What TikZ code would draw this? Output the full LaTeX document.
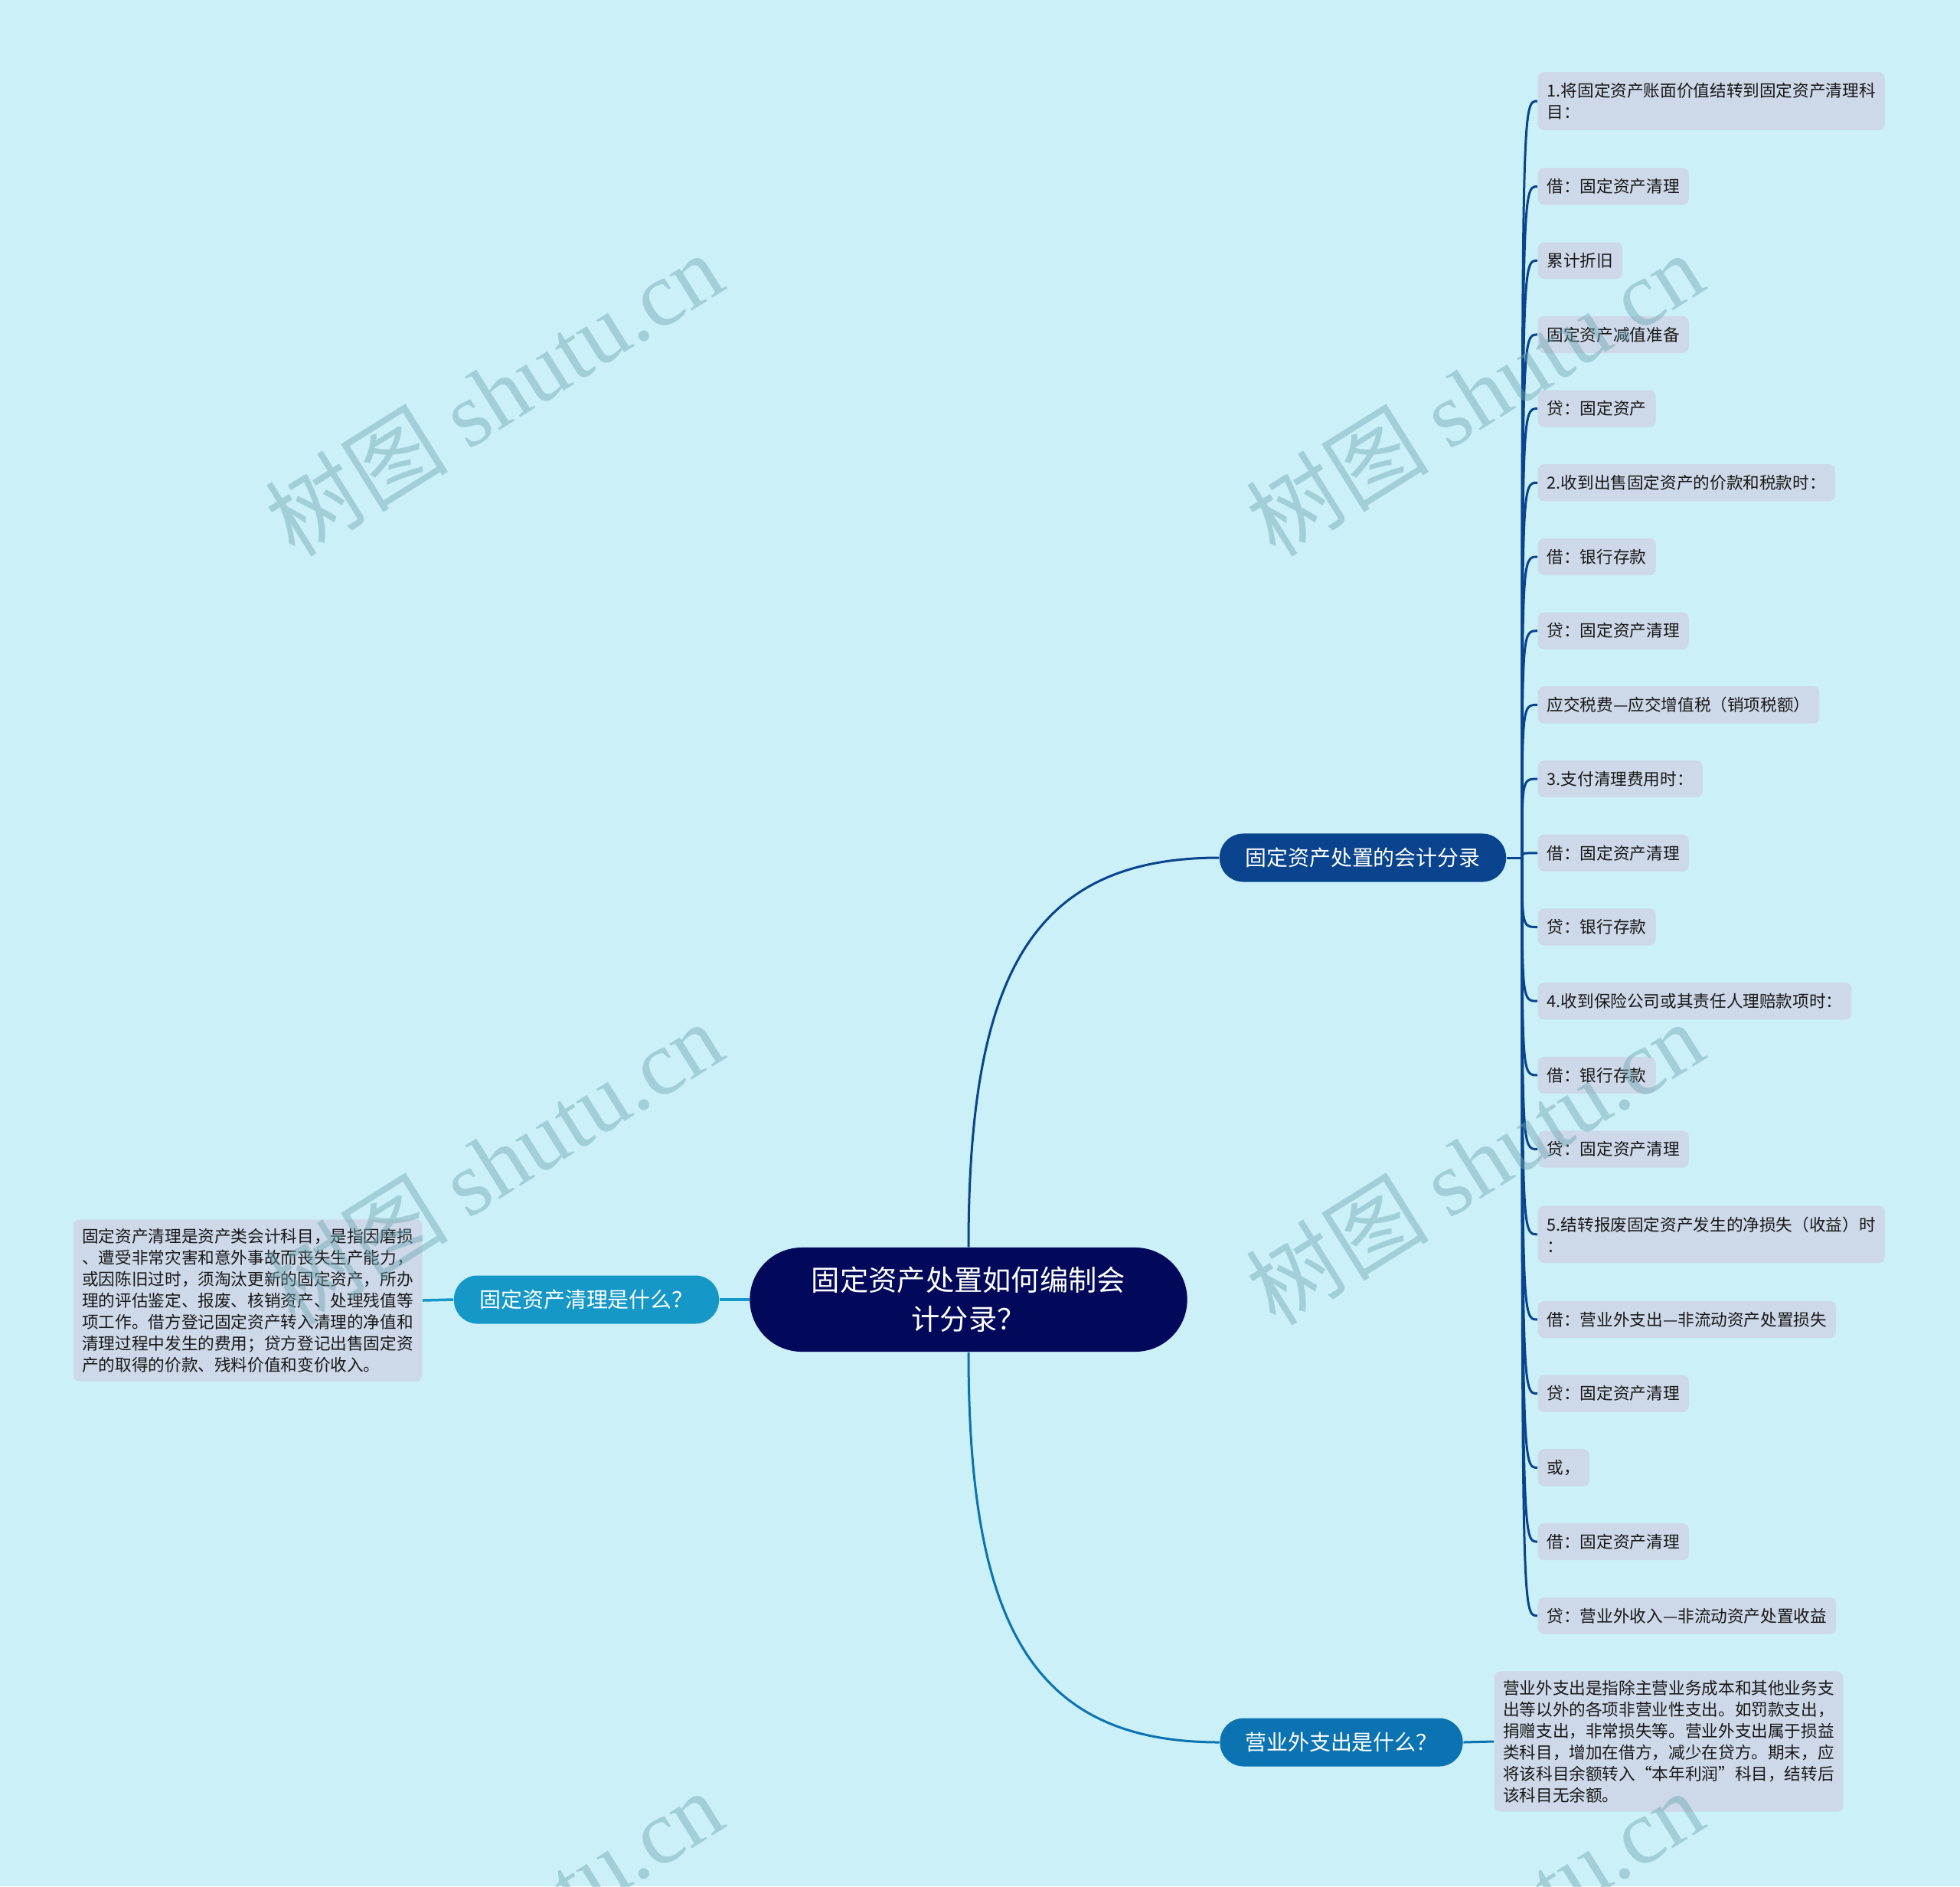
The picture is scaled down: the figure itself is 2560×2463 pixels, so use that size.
\documentclass[tikz,border=0pt]{standalone}
\usepackage{fontspec}
\setmainfont{Noto Sans CJK SC}
\newfontfamily\wmserif{Liberation Serif}
\definecolor{c1}{RGB}{2, 8, 90}
\definecolor{c2}{RGB}{10, 68, 142}
\definecolor{c3}{RGB}{21, 151, 200}
\definecolor{c4}{RGB}{11, 115, 177}
\definecolor{c5}{RGB}{205, 216, 232}
\definecolor{c6}{RGB}{203, 240, 248}
\definecolor{c7}{RGB}{110, 165, 176}
\tikzset{
  root/.style={rectangle, rounded corners=0.68cm, fill=c1, text=white, minimum width=5.71cm, minimum height=1.36cm, align=center, font=\fontsize{10.6pt}{14.4pt}\selectfont},
  branch/.style={rectangle, rounded corners=0.31cm, text=white, minimum height=0.63cm, inner xsep=0.2cm, font=\fontsize{7.94pt}{9pt}\selectfont},
  leaf/.style={rectangle, rounded corners=0.08cm, fill=c5, text=black!90, anchor=west, inner xsep=0.12cm, inner ysep=0.14cm, align=left, font=\fontsize{6.15pt}{7.97pt}\selectfont},
  note/.style={leaf, inner xsep=0.115cm, inner ysep=0.115cm},
  wmark/.style={text=c7, opacity=0.45, rotate=32, font=\fontsize{34pt}{36pt}\selectfont},
  % edge/.style={->, line width=0.02cm},
  edge1/.style={c2, line width=0.03cm},
  edge2/.style={c3, line width=0.035cm},
  edge3/.style={c4, line width=0.03cm},
}

\begin{document}
\begin{tikzpicture}[x=0.01cm, y=-0.01cm]
    \fill[c6] (0,0) rectangle (2560,2463);
    \useasboundingbox (0,0) rectangle (2560,2463);

    \node[root] (root) at (1265,1697) {固定资产处置如何编制会\\计分录？};

    \node[branch, fill=c2, minimum width=3.74cm] (b1) at (1780,1120) {固定资产处置的会计分录};
    \node[branch, fill=c3, minimum width=3.46cm] (b2) at (766,1697) {固定资产清理是什么？};
    \node[branch, fill=c4, minimum width=3.17cm] (b3) at (1752,2275) {营业外支出是什么？};

    \node[note, anchor=east] (t2) at (552,1698) {固定资产清理是资产类会计科目，是指因磨损\\、遭受非常灾害和意外事故而丧失生产能力，\\或因陈旧过时，须淘汰更新的固定资产，所办\\理的评估鉴定、报废、核销资产、处理残值等\\项工作。借方登记固定资产转入清理的净值和\\清理过程中发生的费用；贷方登记出售固定资\\产的取得的价款、残料价值和变价收入。};
    \node[note] (t3) at (1951,2274) {营业外支出是指除主营业务成本和其他业务支\\出等以外的各项非营业性支出。如罚款支出，\\捐赠支出，非常损失等。营业外支出属于损益\\类科目，增加在借方，减少在贷方。期末，应\\将该科目余额转入“本年利润”科目，结转后\\该科目无余额。};

    \coordinate (hub) at (1988,1120);

    \node[leaf] (l1) at (2008,132) {1.将固定资产账面价值结转到固定资产清理科\\目：};
    \node[leaf] (l2) at (2008,243.5) {借：固定资产清理};
    \node[leaf] (l3) at (2008,340.2) {累计折旧};
    \node[leaf] (l4) at (2008,436.9) {固定资产减值准备};
    \node[leaf] (l5) at (2008,533.6) {贷：固定资产};
    \node[leaf] (l6) at (2008,630.3) {2.收到出售固定资产的价款和税款时：};
    \node[leaf] (l7) at (2008,727) {借：银行存款};
    \node[leaf] (l8) at (2008,823.7) {贷：固定资产清理};
    \node[leaf] (l9) at (2008,920.4) {应交税费—应交增值税（销项税额）};
    \node[leaf] (l10) at (2008,1017.1) {3.支付清理费用时：};
    \node[leaf] (l11) at (2008,1113.8) {借：固定资产清理};
    \node[leaf] (l12) at (2008,1210.5) {贷：银行存款};
    \node[leaf] (l13) at (2008,1307.2) {4.收到保险公司或其责任人理赔款项时：};
    \node[leaf] (l14) at (2008,1403.9) {借：银行存款};
    \node[leaf] (l15) at (2008,1500.6) {贷：固定资产清理};
    \node[leaf] (l16) at (2008,1611.8) {5.结转报废固定资产发生的净损失（收益）时\\：};
    \node[leaf] (l17) at (2008,1723) {借：营业外支出—非流动资产处置损失};
    \node[leaf] (l18) at (2008,1819.7) {贷：固定资产清理};
    \node[leaf] (l19) at (2008,1916.4) {或，};
    \node[leaf] (l20) at (2008,2013.1) {借：固定资产清理};
    \node[leaf] (l21) at (2008,2109.8) {贷：营业外收入—非流动资产处置收益};

    % main branches
    \draw[edge1] (root.north) .. controls +(0,-356) and +(-244,0) .. (b1.west);
    \draw[edge2] (root.west) -- (b2.east);
    \draw[edge3] (root.south) .. controls +(0,357) and +(-244,0) .. (b3.west);

    \draw[edge2] (b2.west) -- (t2.east);
    \draw[edge3] (b3.east) -- (t3.west);

    % entries
    \draw[edge1] (b1.east) -- (hub);
    \draw[edge1] (hub) .. controls (hub |- l1.west) and (hub |- l1.west) .. (l1.west);
    \draw[edge1] (hub) .. controls (hub |- l2.west) and (hub |- l2.west) .. (l2.west);
    \draw[edge1] (hub) .. controls (hub |- l3.west) and (hub |- l3.west) .. (l3.west);
    \draw[edge1] (hub) .. controls (hub |- l4.west) and (hub |- l4.west) .. (l4.west);
    \draw[edge1] (hub) .. controls (hub |- l5.west) and (hub |- l5.west) .. (l5.west);
    \draw[edge1] (hub) .. controls (hub |- l6.west) and (hub |- l6.west) .. (l6.west);
    \draw[edge1] (hub) .. controls (hub |- l7.west) and (hub |- l7.west) .. (l7.west);
    \draw[edge1] (hub) .. controls (hub |- l8.west) and (hub |- l8.west) .. (l8.west);
    \draw[edge1] (hub) .. controls (hub |- l9.west) and (hub |- l9.west) .. (l9.west);
    \draw[edge1] (hub) .. controls (hub |- l10.west) and (hub |- l10.west) .. (l10.west);
    \draw[edge1] (hub) .. controls (hub |- l11.west) and (hub |- l11.west) .. (l11.west);
    \draw[edge1] (hub) .. controls (hub |- l12.west) and (hub |- l12.west) .. (l12.west);
    \draw[edge1] (hub) .. controls (hub |- l13.west) and (hub |- l13.west) .. (l13.west);
    \draw[edge1] (hub) .. controls (hub |- l14.west) and (hub |- l14.west) .. (l14.west);
    \draw[edge1] (hub) .. controls (hub |- l15.west) and (hub |- l15.west) .. (l15.west);
    \draw[edge1] (hub) .. controls (hub |- l16.west) and (hub |- l16.west) .. (l16.west);
    \draw[edge1] (hub) .. controls (hub |- l17.west) and (hub |- l17.west) .. (l17.west);
    \draw[edge1] (hub) .. controls (hub |- l18.west) and (hub |- l18.west) .. (l18.west);
    \draw[edge1] (hub) .. controls (hub |- l19.west) and (hub |- l19.west) .. (l19.west);
    \draw[edge1] (hub) .. controls (hub |- l20.west) and (hub |- l20.west) .. (l20.west);
    \draw[edge1] (hub) .. controls (hub |- l21.west) and (hub |- l21.west) .. (l21.west);

    % watermark
    \node[wmark] (w1) at (645,514) {树图 {\wmserif shutu.cn}};
    \node[wmark] (w2) at (1926,514) {树图 {\wmserif shutu.cn}};
    \node[wmark] (w3) at (645,1518) {树图 {\wmserif shutu.cn}};
    \node[wmark] (w4) at (1926,1518) {树图 {\wmserif shutu.cn}};
    \node[wmark] (w5) at (645,2522) {树图 {\wmserif shutu.cn}};
    \node[wmark] (w6) at (1926,2522) {树图 {\wmserif shutu.cn}};

\end{tikzpicture}
\end{document}
